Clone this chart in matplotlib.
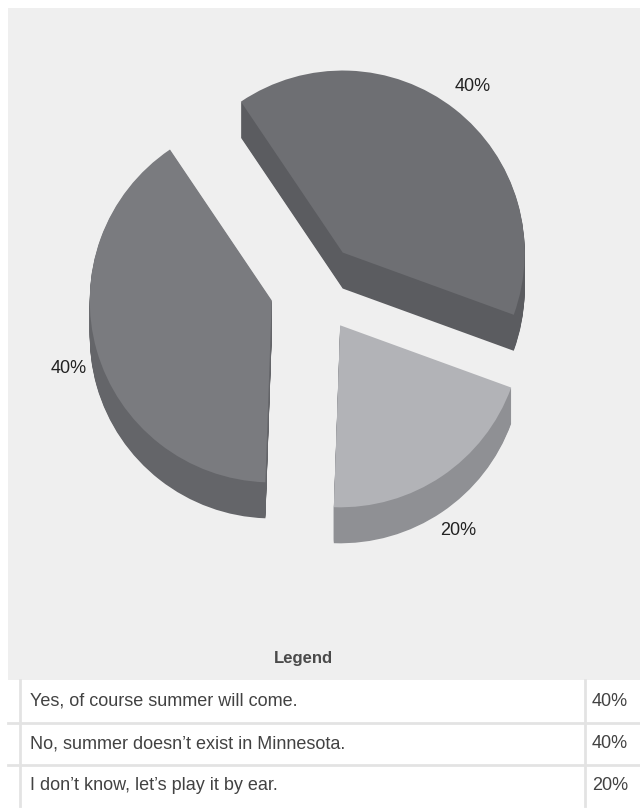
import math
import matplotlib
matplotlib.use('Agg')
import matplotlib.pyplot as plt
from matplotlib import font_manager
from matplotlib.patches import Rectangle

# survey answers and their shares (percent)
answers = ['Yes, of course summer will come.',
           'No, summer doesn\u2019t exist in Minnesota.',
           'I don\u2019t know, let\u2019s play it by ear.']
shares = [40, 40, 20]

top_colors = ['#6e6f73', '#7a7b7f', '#b2b3b7']
side_colors = ['#5b5c60', '#646569', '#8f9094']

# fonts
names = {f.name for f in font_manager.fontManager.ttflist}
narrow = 'Liberation Sans Narrow' if 'Liberation Sans Narrow' in names else 'Liberation Sans'

W, H = 640, 810
fig = plt.figure(figsize=(W / 100, H / 100), dpi=100)
ax = fig.add_axes([0, 0, 1, 1])

# grey chart panel (pixel units, y up)
ax.add_patch(Rectangle((8, H - 680), W - 8, 672, facecolor='#efefef', edgecolor='none', zorder=0))

# pie geometry in pixels
cx, cy = 315, H - 288
radius = 182
explode = [45] * len(shares)
depth = 36
start = -20

# extruded sides: stack of shifted pies
for k in range(depth, 0, -1):
    ax.pie(shares, explode=explode, radius=radius, center=(cx, cy - k),
           colors=side_colors, startangle=start, frame=False,
           wedgeprops=dict(linewidth=0))

# top faces with percentage labels
wedges, texts, autotexts = ax.pie(
    shares, explode=explode, radius=radius, center=(cx, cy),
    colors=top_colors, startangle=start, frame=False,
    wedgeprops=dict(linewidth=0),
    autopct=lambda p: f'{p:.0f}%', pctdistance=1.16,
    textprops=dict(color='#222222', fontsize=13, family=narrow))

# push labels of lower slices below the extruded side
for t, w in zip(autotexts, wedges):
    th = math.radians((w.theta1 + w.theta2) / 2)
    x, y = t.get_position()
    t.set_position((x, y - depth * max(0, -math.sin(th))))

# legend table
ax.text(303, H - 659, 'Legend', ha='center', va='center', fontsize=12,
        fontweight='bold', color='#4a4a4a', family='Liberation Sans')

row_edges = [680, 723, 765, 806]
for i, (answer, share) in enumerate(zip(answers, shares)):
    top, bottom = row_edges[i], row_edges[i + 1]
    ax.add_patch(Rectangle((8, H - bottom), W - 8, bottom - top,
                           facecolor='white', edgecolor='none', zorder=1))
    ymid = H - (top + bottom) / 2
    ax.text(30, ymid, answer, ha='left', va='center', fontsize=13,
            color='#424242', family='Liberation Sans')
    ax.text(592, ymid, f'{share}%', ha='left', va='center', fontsize=13,
            color='#424242', family='Liberation Sans')

for y in row_edges[1:-1]:
    ax.plot([8, W], [H - y, H - y], color='#e3e3e3', lw=2, zorder=2)
for x in [20, 585]:
    ax.plot([x, x], [H - row_edges[0], H - row_edges[-1]], color='#e3e3e3', lw=2, zorder=2)

ax.set_xlim(0, W)
ax.set_ylim(0, H)
ax.set_aspect('auto')
ax.axis('off')

fig.savefig('out.png', dpi=100)
